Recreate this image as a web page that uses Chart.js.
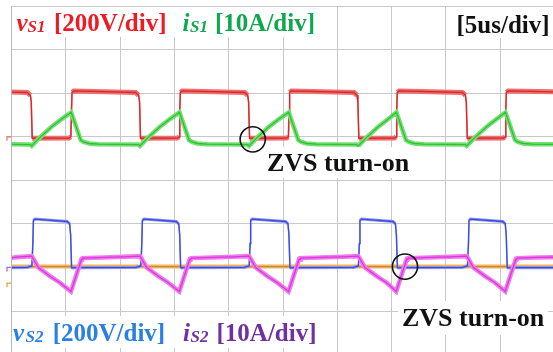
<!DOCTYPE html>
<html>
<head>
<meta charset="utf-8">
<script src="https://cdn.jsdelivr.net/npm/chart.js@4.4.1/dist/chart.umd.min.js"></script>
<style>
html, body { margin: 0; padding: 0; background: #fff; overflow: hidden; }
canvas { display: block; }
</style>
</head>
<body>
<canvas id="scope" width="553" height="352"></canvas>
<script>
// screen: 5 us/div across, 8 div high; the right and bottom edge of the
// window cut the last division a little short
var timeTicks = [0, 5, 10, 15, 20, 25, 30, 35, 40, 45];
var divTicks = [1, 2, 3, 4, 5, 6, 7, 8];
var timeMin = 0, timeMax = 49.88;
var divMin = 0.06, divMax = 8;

// channel scale (per div) and ground position (div from bottom)
var vS1Scale = 200, vS1Offset = 5.0;
var iS1Scale = 10, iS1Offset = 5.0;
var vS2Scale = 200, vS2Offset = 2.0;
var iS2Scale = 10, iS2Offset = 2.0;
var ch5Scale = 10, ch5Offset = 1.64;

// [time us, volts]
var vS1 = [
    [0, 205], [1.44, 203], [1.72, 190], [1.80, 160], [1.89, -7],
    [5.28, -6], [5.45, -1], [5.51, 120], [5.56, 204], [5.73, 210],
    [11.42, 203], [11.70, 190], [11.78, 160], [11.87, -7],
    [15.26, -6], [15.43, -1], [15.49, 120], [15.54, 204], [15.71, 210],
    [21.47, 203], [21.75, 190], [21.83, 160], [21.92, -7],
    [25.33, -6], [25.50, -1], [25.56, 120], [25.61, 204], [25.78, 210],
    [31.54, 203], [31.82, 190], [31.90, 160], [31.99, -7],
    [35.25, -6], [35.42, -1], [35.48, 120], [35.53, 204], [35.70, 210],
    [41.53, 203], [41.81, 190], [41.89, 160], [41.98, -7],
    [45.30, -6], [45.47, -1], [45.53, 120], [45.58, 204], [45.75, 210],
    [50, 206]
];
// [time us, amps]
var iS1 = [
    [0, -1.75], [1.69, -1.8], [1.84, -2.1], [2.58, -0.2], [3.68, 2.3], [4.60, 4.06], [5.48, 5.6],
    [6.36, -0.75], [6.63, -1.2], [7.13, -1.55], [8.0, -1.7],
    [11.67, -1.8], [11.82, -2.1], [12.56, -0.2], [13.66, 2.3], [14.58, 4.06], [15.46, 5.6],
    [16.34, -0.75], [16.61, -1.2], [17.11, -1.55], [18.0, -1.7],
    [21.72, -1.8], [21.87, -2.1], [22.61, -0.2], [23.71, 2.3], [24.63, 4.06], [25.53, 5.6],
    [26.41, -0.75], [26.68, -1.2], [27.18, -1.55], [28.1, -1.7],
    [31.79, -1.8], [31.94, -2.1], [32.68, -0.2], [33.78, 2.3], [34.70, 4.06], [35.45, 5.6],
    [36.33, -0.75], [36.60, -1.2], [37.10, -1.55], [38.0, -1.7],
    [41.78, -1.8], [41.93, -2.1], [42.67, -0.2], [43.77, 2.3], [44.69, 4.06], [45.50, 5.6],
    [46.38, -0.75], [46.65, -1.2], [47.15, -1.55], [48.0, -1.7],
    [50, -1.75]
];
var vS2 = [
    [0, -1], [1.40, 0], [1.86, 7], [1.95, 110], [2.00, 216], [2.15, 222], [5.11, 211], [5.34, 200], [5.43, 150], [5.52, -2], [5.9, -1],
    [11.44, 0], [11.90, 7], [11.99, 110], [12.04, 216], [12.19, 222], [15.16, 211], [15.39, 200], [15.48, 150], [15.57, -2], [15.95, -1],
    [21.42, 0], [21.88, 7], [21.97, 110], [22.02, 216], [22.17, 222], [25.23, 211], [25.46, 200], [25.55, 150], [25.64, -2], [26.02, -1],
    [31.49, 0], [31.95, 7], [32.04, 110], [32.09, 216], [32.24, 222], [35.13, 211], [35.36, 200], [35.45, 150], [35.54, -2], [35.92, -1],
    [41.54, 0], [42.00, 7], [42.09, 110], [42.14, 216], [42.29, 222], [45.25, 211], [45.48, 200], [45.57, 150], [45.66, -2], [46.04, -1],
    [50, -1]
];
var iS2 = [
    [0, 2.2], [0.34, 2.35],
    [1.84, 2.6], [1.99, 2.0], [2.45, 0], [3.53, -2.0], [4.45, -3.5], [5.46, -5.5], [6.43, 1.9], [6.53, 1.85], [6.58, 2.15], [8.5, 2.3], [10.32, 2.45],
    [11.82, 2.6], [11.97, 2.0], [12.43, 0], [13.51, -2.0], [14.43, -3.5], [15.44, -5.5], [16.41, 1.9], [16.51, 1.85], [16.56, 2.15], [18.5, 2.3], [20.37, 2.45],
    [21.87, 2.6], [22.02, 2.0], [22.48, 0], [23.56, -2.0], [24.48, -3.5], [25.51, -5.5], [26.48, 1.9], [26.58, 1.85], [26.63, 2.15], [28.5, 2.3], [30.44, 2.45],
    [31.94, 2.6], [32.09, 2.0], [32.55, 0], [33.63, -2.0], [34.55, -3.5], [35.43, -5.5], [36.40, 1.9], [36.50, 1.85], [36.55, 2.15], [38.5, 2.3], [40.43, 2.45],
    [41.93, 2.6], [42.08, 2.0], [42.54, 0], [43.62, -2.0], [44.54, -3.5], [45.48, -5.5], [46.45, 1.9], [46.55, 1.85], [46.60, 2.15], [48.5, 2.3],
    [50, 2.35]
];
var ch5 = [[0, 3.8], [50, 3.8]];

// ZVS circles: time us, screen div
var zvsTimes = [22.21, 36.24];
var zvsDivs = [4.94, 2.02];

var RED = '#ec1c24', GREEN = '#10a84e', BLUE = '#2a7fe3', PURPLE = '#7030a0';
var SERIF = '"Liberation Serif", "Times New Roman", serif';

var steepWidth = function (wide, thin) {
    return function (ctx) {
        var dx = Math.abs(ctx.p1.x - ctx.p0.x), dy = Math.abs(ctx.p1.y - ctx.p0.y);
        return dy > dx * 4 ? thin : wide;
    };
};

var trace = function (points, offset, scale, halo, core, wide) {
    var data = points.map(function (p) {
        return {x: p[0], y: offset + p[1] / scale};
    });
    return [
        {data: data, borderColor: core, borderWidth: 1.3, pointRadius: 0, tension: 0},
        {data: data, borderColor: halo, borderWidth: wide, pointRadius: 0, tension: 0,
            segment: {borderWidth: steepWidth(wide, 1.6)}}
    ];
};

var circles = {
    data: zvsTimes.map(function (t, i) { return {x: t, y: zvsDivs[i]}; }),
    showLine: false, pointRadius: 12.6, pointBorderWidth: 1.6,
    pointBorderColor: '#111', pointBackgroundColor: 'rgba(0,0,0,0)'
};

var datasets = [circles]
    .concat(trace(iS2, iS2Offset, iS2Scale, '#ee7aee', '#dc36dc', 4.5))
    .concat(trace(vS2, vS2Offset, vS2Scale, '#8c96f0', '#3c4ce0', 3))
    .concat(trace(ch5, ch5Offset, ch5Scale, '#f4b25c', '#c98a42', 4))
    .concat(trace(iS1, iS1Offset, iS1Scale, '#74e074', '#30c030', 4.5))
    .concat(trace(vS1, vS1Offset, vS1Scale, '#ef6e6e', '#d42a2e', 5));

// text on the screen, drawn with white boxes behind
var textBoxes = [
    {x0: 14, y0: 7, x1: 318, y1: 37},
    {x0: 452, y0: 7, x1: 553, y1: 38},
    {x0: 265, y0: 147, x1: 410, y1: 178},
    {x0: 398, y0: 301, x1: 548, y1: 335},
    {x0: 12.5, y0: 316, x1: 318, y1: 348}
];
var textRuns = [
    {t: 'v', x: 16.5, y: 31, f: 'italic bold 25px', c: RED},
    {t: 'S1', x: 27.5, y: 32, f: 'italic bold 17px', c: RED},
    {t: '[200V/div]', x: 54, y: 31, f: 'bold 25px', c: RED},
    {t: 'i', x: 182.5, y: 31, f: 'italic bold 25px', c: GREEN},
    {t: 'S1', x: 190, y: 32, f: 'italic bold 17px', c: GREEN},
    {t: '[10A/div]', x: 215, y: 31, f: 'bold 25px', c: GREEN},
    {t: '[5us/div]', x: 456.5, y: 32.5, f: 'bold 25px', c: '#111'},
    {t: 'ZVS turn-on', x: 267, y: 171, f: 'bold 26px', c: '#111'},
    {t: 'ZVS turn-on', x: 402, y: 326, f: 'bold 26px', c: '#111'},
    {t: 'v', x: 13, y: 341, f: 'italic bold 25px', c: BLUE},
    {t: 'S2', x: 25.5, y: 342, f: 'italic bold 17px', c: BLUE},
    {t: '[200V/div]', x: 52.7, y: 341, f: 'bold 25px', c: BLUE},
    {t: 'i', x: 183, y: 341, f: 'italic bold 25px', c: PURPLE},
    {t: 'S2', x: 190.5, y: 342, f: 'italic bold 17px', c: PURPLE},
    {t: '[10A/div]', x: 216.5, y: 341, f: 'bold 25px', c: PURPLE}
];

var overlay = {
    id: 'overlay',
    afterDraw: function (chart) {
        var ctx = chart.ctx, y = chart.scales.y;
        ctx.save();
        // ground markers left of the screen
        var marks = [[vS1Offset, '#f07a7a'], [vS2Offset, '#b46ad8'], [ch5Offset, '#f0a040']];
        marks.forEach(function (m) {
            var py = y.getPixelForValue(m[0]);
            ctx.strokeStyle = m[1];
            ctx.lineWidth = 1.3;
            ctx.beginPath();
            ctx.moveTo(7, py + 4);
            ctx.lineTo(7, py);
            ctx.lineTo(11, py);
            ctx.stroke();
        });
        ctx.fillStyle = '#fff';
        textBoxes.forEach(function (b) {
            ctx.fillRect(b.x0, b.y0, b.x1 - b.x0, b.y1 - b.y0);
        });
        ctx.textBaseline = 'alphabetic';
        ctx.textAlign = 'left';
        textRuns.forEach(function (r) {
            ctx.font = r.f + ' ' + SERIF;
            ctx.fillStyle = r.c;
            ctx.fillText(r.t, r.x, r.y);
        });
        ctx.restore();
    }
};

var gridOpts = {color: '#c8c8c8', lineWidth: 1, drawTicks: false};
var config = {
    type: 'line',
    data: {datasets: datasets},
    options: {
        responsive: false,
        animation: false,
        devicePixelRatio: 1,
        events: [],
        layout: {autoPadding: false, padding: {left: 11.7, top: 6, right: 0, bottom: 0}},
        plugins: {legend: {display: false}, tooltip: {enabled: false}},
        scales: {
            x: {
                type: 'linear', min: timeMin, max: timeMax,
                afterBuildTicks: function (s) { s.ticks = timeTicks.map(function (v) { return {value: v}; }); },
                ticks: {display: false}, grid: gridOpts, border: {display: false}
            },
            y: {
                type: 'linear', min: divMin, max: divMax,
                afterBuildTicks: function (s) { s.ticks = divTicks.map(function (v) { return {value: v}; }); },
                ticks: {display: false}, grid: gridOpts, border: {display: true, color: '#b8b8b8'}
            }
        }
    },
    plugins: [overlay]
};

var scopeChart = new Chart(document.getElementById('scope').getContext('2d'), config);
</script>
</body>
</html>
